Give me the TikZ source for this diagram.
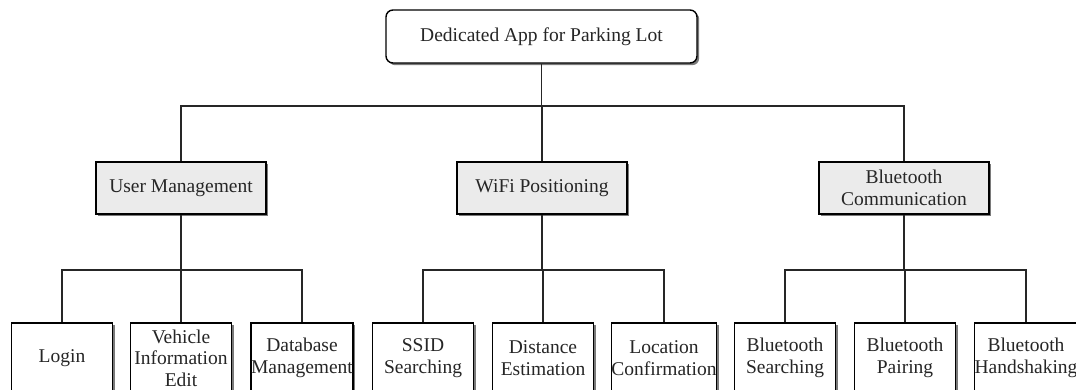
\documentclass[tikz,border=0pt]{standalone}
\usepackage{fontspec}
\setmainfont{Liberation Serif}
\usetikzlibrary{shadows}
\begin{document}
\begin{tikzpicture}[x=1pt,y=-1pt,
  every node/.style={font=\fontsize{19.5}{21.5}\selectfont, text=black!85, align=center, inner sep=0pt},
  shad/.style={drop shadow={shadow xshift=2.2pt, shadow yshift=-2.2pt, fill=black!65, opacity=0.8}},
  topbox/.style={draw, line width=1.4pt, fill=white, rounded corners=7pt, minimum width=311pt, minimum height=53pt, shad},
  midbox/.style={draw, line width=1.4pt, fill=black!8, minimum width=170pt, minimum height=52pt, shad},
  leafbox/.style={draw, line width=1.4pt, fill=white, minimum width=101pt, minimum height=70pt, shad},
  conn/.style={line width=1.2pt, black!85}]
\useasboundingbox (0,0) rectangle (1076,389);
\clip (0,0) rectangle (1076,389);
\fill[white] (0,0) rectangle (1076,389);

\node[topbox] (top) at (541.5,36.5) {Dedicated App for Parking Lot};

\node[midbox] (um) at (181,188) {User Management};
\node[midbox] (wp) at (542,188) {WiFi Positioning};
\node[midbox] (bc) at (904,188) {Bluetooth\\Communication};

\node[leafbox] (l1) at (62,358) {Login};
\node[leafbox] (l2) at (181,358) {Vehicle\\Information\\Edit};
\node[leafbox] (l3) at (302,358) {Database\\Management};
\node[leafbox] (l4) at (423,358) {SSID\\Searching};
\node[leafbox] (l5) at (543,358) {Distance\\Estimation};
\node[leafbox] (l6) at (664,358) {Location\\Confirmation};
\node[leafbox] (l7) at (785,358) {Bluetooth\\Searching};
\node[leafbox] (l8) at (905,358) {Bluetooth\\Pairing};
\node[leafbox] (l9) at (1026,358) {Bluetooth\\Handshaking};

\coordinate (b0) at (541.5,106);
\draw[conn] (top.south) -- (b0);
\draw[conn] (um.north) |- (b0) -| (bc.north);
\draw[conn] (wp.north) -- (wp.north |- b0);

\coordinate (b1) at (181,270);
\draw[conn] (um.south) -- (b1);
\draw[conn] (l1.north) |- (b1) -| (l3.north);
\draw[conn] (l2.north) -- (l2.north |- b1);

\coordinate (b2) at (542,270);
\draw[conn] (wp.south) -- (b2);
\draw[conn] (l4.north) |- (b2) -| (l6.north);
\draw[conn] (l5.north) -- (l5.north |- b2);

\coordinate (b3) at (904,270);
\draw[conn] (bc.south) -- (b3);
\draw[conn] (l7.north) |- (b3) -| (l9.north);
\draw[conn] (l8.north) -- (l8.north |- b3);
\end{tikzpicture}
\end{document}
